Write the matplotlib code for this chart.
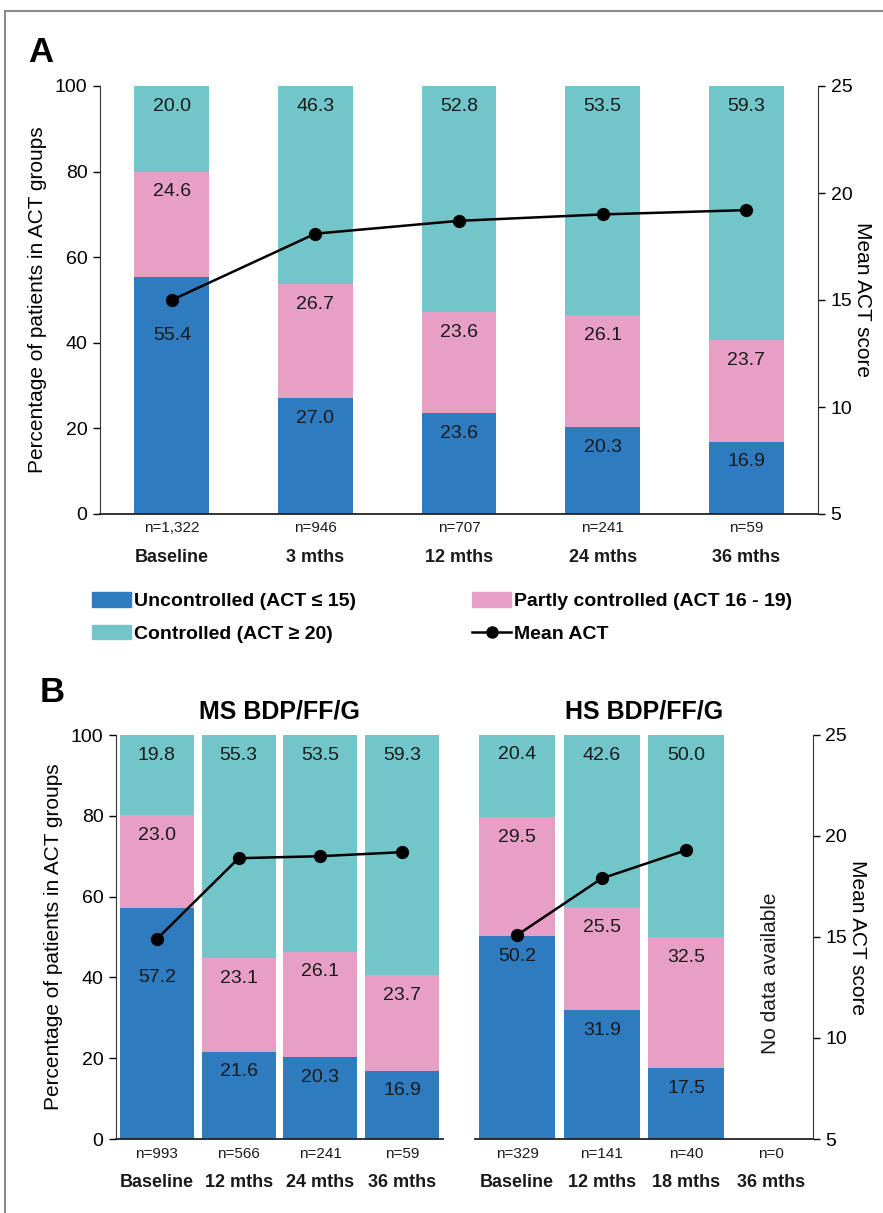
import numpy as np
import matplotlib
matplotlib.use('Agg')
import matplotlib.pyplot as plt
from matplotlib import font_manager
from matplotlib.lines import Line2D
from matplotlib.patches import Patch

# Panel A: all patients
cats_a = ['Baseline', '3 mths', '12 mths', '24 mths', '36 mths']
n_a = ['n=1,322', 'n=946', 'n=707', 'n=241', 'n=59']
unc_a = [55.4, 27.0, 23.6, 20.3, 16.9]
part_a = [24.6, 26.7, 23.6, 26.1, 23.7]
ctrl_a = [20.0, 46.3, 52.8, 53.5, 59.3]
act_a = [15.0, 18.1, 18.7, 19.0, 19.2]

# Panel B left: MS BDP/FF/G
cats_ms = ['Baseline', '12 mths', '24 mths', '36 mths']
n_ms = ['n=993', 'n=566', 'n=241', 'n=59']
unc_ms = [57.2, 21.6, 20.3, 16.9]
part_ms = [23.0, 23.1, 26.1, 23.7]
ctrl_ms = [19.8, 55.3, 53.5, 59.3]
act_ms = [14.9, 18.9, 19.0, 19.2]

# Panel B right: HS BDP/FF/G (no data at 36 mths)
cats_hs = ['Baseline', '12 mths', '18 mths', '36 mths']
n_hs = ['n=329', 'n=141', 'n=40', 'n=0']
unc_hs = [50.2, 31.9, 17.5, 0]
part_hs = [29.5, 25.5, 32.5, 0]
ctrl_hs = [20.4, 42.6, 50.0, 0]
act_hs = [15.1, 17.9, 19.3, np.nan]

BLUE = '#2E7BBF'
PINK = '#E79FC5'
TEAL = '#72C5C8'
INK = '#1a1a1a'

names = {f.name for f in font_manager.fontManager.ttflist}
plt.rcParams['font.family'] = ['Liberation Sans', 'DejaVu Sans']
NARROW = 'Liberation Sans Narrow' if 'Liberation Sans Narrow' in names else 'Liberation Sans'

W, H = 883, 1213
fig = plt.figure(figsize=(W / 100, H / 100), dpi=100)


def box(l, t, r, b):
    return [l / W, 1 - b / H, (r - l) / W, (b - t) / H]


def stacked(ax, unc, part, ctrl, width, drop=None):
    drop = drop or {}
    x = np.arange(len(unc))
    bottoms = np.zeros(len(unc))
    for k, (vals, col) in enumerate([(unc, BLUE), (part, PINK), (ctrl, TEAL)]):
        vals = np.array(vals, dtype=float)
        ax.bar(x, vals, width, bottom=bottoms, color=col, linewidth=0)
        for i, v in enumerate(vals):
            if v <= 0:
                continue
            off = drop.get((k, i), 14.5)
            ax.annotate(f'{v:.1f}', (x[i], bottoms[i] + v), xytext=(0, -off),
                        textcoords='offset points', ha='center', va='center',
                        fontsize=14, color=INK)
        bottoms += vals
    ax.set_xlim(-0.5, len(unc) - 0.5)
    ax.set_ylim(0, 100)
    ax.set_xticks([])
    for s in ['top', 'right']:
        ax.spines[s].set_visible(False)
    ax.spines['bottom'].set_linewidth(1.3)
    ax.spines['bottom'].set_color('#222222')
    ax.spines['left'].set_color('#333333')
    ax.tick_params(axis='y', direction='out', length=5, width=1, labelsize=14, pad=4)
    ax.set_yticks([0, 20, 40, 60, 80, 100])


def xlabels(ax, ns, cats, dn, dc):
    for i, (n, c) in enumerate(zip(ns, cats)):
        ax.annotate(n, (i, 0), xycoords=('data', 'axes fraction'), xytext=(0, -dn),
                    textcoords='offset points', ha='center', va='center',
                    fontsize=11, family=NARROW, color=INK)
        ax.annotate(c, (i, 0), xycoords=('data', 'axes fraction'), xytext=(0, -dc),
                    textcoords='offset points', ha='center', va='center',
                    fontsize=13, family=NARROW, fontweight='bold', color=INK)


def act_line(ax, vals, show_axis=True):
    tw = ax.twinx()
    tw.plot(np.arange(len(vals)), vals, color='black', lw=1.8, marker='o', ms=8.5)
    tw.set_ylim(5, 25)
    tw.set_yticks([5, 10, 15, 20, 25])
    for s in ['top', 'left', 'bottom']:
        tw.spines[s].set_visible(False)
    if show_axis:
        tw.spines['right'].set_color('#333333')
        tw.tick_params(axis='y', direction='out', length=5, width=1, labelsize=14, pad=4)
        tw.set_ylabel('Mean ACT score', rotation=270, fontsize=15, labelpad=14)
    else:
        tw.spines['right'].set_visible(False)
        tw.set_yticks([])
    return tw


# ---- Panel A ----
axa = fig.add_axes(box(100, 86, 818, 514))
stacked(axa, unc_a, part_a, ctrl_a, 0.52, drop={(0, 0): 42.5})
act_line(axa, act_a)
axa.set_ylabel('Percentage of patients in ACT groups', fontsize=15, labelpad=6)
xlabels(axa, n_a, cats_a, 10, 31)

handles = [Patch(color=BLUE), Patch(color=TEAL), Patch(color=PINK),
           Line2D([], [], color='black', lw=1.8, marker='o', ms=8)]
labels = ['Uncontrolled (ACT \u2264 15)', 'Controlled (ACT \u2265 20)',
          'Partly controlled (ACT 16 - 19)', 'Mean ACT']
fig.legend(handles, labels, ncol=2, loc='upper left', bbox_to_anchor=(84 / W, 1 - 584 / H),
           frameon=False, handlelength=2.0, handleheight=0.8, handletextpad=0.15,
           columnspacing=6.0, labelspacing=0.75, borderaxespad=0,
           prop={'family': NARROW, 'weight': 'bold', 'size': 14})

fig.text(28 / W, 1 - 52 / H, 'A', fontsize=25, fontweight='bold', va='center', ha='left')
fig.text(40 / W, 1 - 693 / H, 'B', fontsize=25, fontweight='bold', va='center', ha='left')

# ---- Panel B ----
axm = fig.add_axes(box(116, 735, 443, 1139))
stacked(axm, unc_ms, part_ms, ctrl_ms, 0.905, drop={(0, 0): 50})
act_line(axm, act_ms, show_axis=False)
axm.set_ylabel('Percentage of patients in ACT groups', fontsize=15, labelpad=6)
axm.set_title('MS BDP/FF/G', fontsize=18, fontweight='bold', pad=12)
xlabels(axm, n_ms, cats_ms, 11, 31.5)

axh = fig.add_axes(box(475, 735, 813, 1139))
stacked(axh, unc_hs, part_hs, ctrl_hs, 0.905)
axh.spines['left'].set_visible(False)
axh.set_yticks([])
act_line(axh, act_hs)
axh.set_title('HS BDP/FF/G', fontsize=18, fontweight='bold', pad=12)
axh.text(3, 41, 'No data available', rotation=90, ha='center', va='center', fontsize=15, color=INK)
xlabels(axh, n_hs, cats_hs, 11, 31.5)

# outer frame (top and left edges only)
fig.add_artist(Line2D([5 / W, 5 / W], [0, 1 - 11 / H], color='#8a8a8a', lw=1.5))
fig.add_artist(Line2D([5 / W, 1], [1 - 11 / H, 1 - 11 / H], color='#8a8a8a', lw=1.5))

fig.savefig('out.png', dpi=100)
